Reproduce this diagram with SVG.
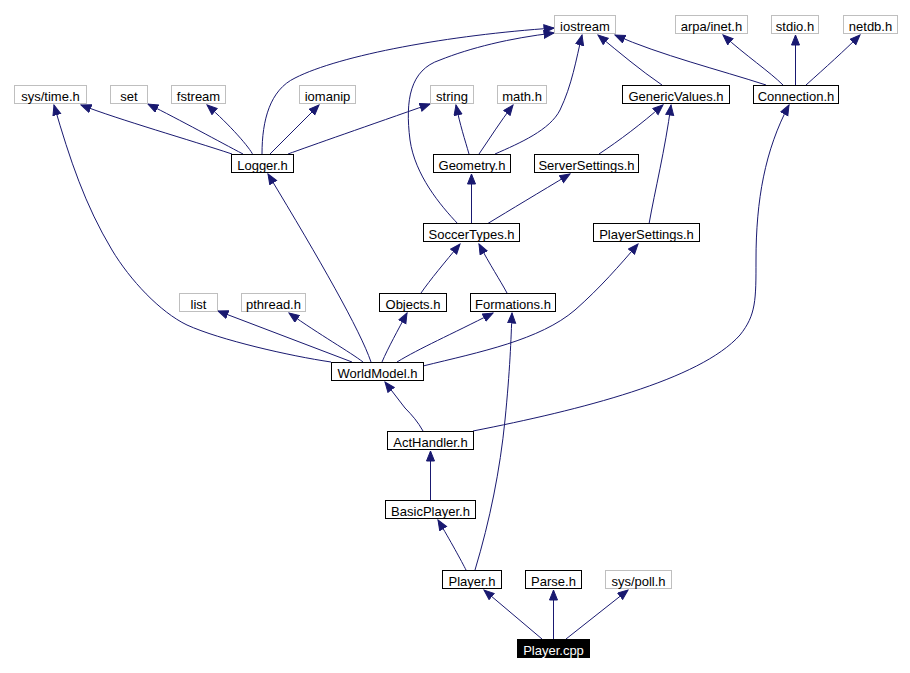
<svg xmlns="http://www.w3.org/2000/svg" width="910" height="673" viewBox="0 0 910 673">
<style>
.n rect{fill:#fff;stroke:#000;stroke-width:1}
.g rect{fill:#fff;stroke:#bfbfbf;stroke-width:1}
.r rect{fill:#000;stroke:#000;stroke-width:1}
text{font-family:"Liberation Sans",Arial,sans-serif;font-size:13px;text-anchor:middle;fill:#000}
.r text{fill:#fff}
#edges path{fill:none;stroke:#191970;stroke-width:1;marker-end:url(#ah)}
</style>
<defs>
<marker id="ah" markerUnits="userSpaceOnUse" markerWidth="12" markerHeight="10" refX="10.5" refY="4.5" orient="auto" viewBox="0 0 12 10">
<path d="M0.5,0.5 L10.5,4.5 L0.5,8.5 z" fill="#191970" stroke="#191970" stroke-width="1"/>
</marker>
</defs>
<rect width="910" height="673" fill="#fff"/>
<g id="edges">
<path d="M542,639 L484,590"/>
<path d="M553.5,639 L553.5,590"/>
<path d="M566,639 L628,590"/>
<path d="M466,570 C462,562 450,540 438,520"/>
<path d="M475,570 C490,520 500,470 505,420 C510,370 511,340 512,313"/>
<path d="M430.5,500 L430.5,451"/>
<path d="M423,431 C418,422 412,415 405,408 L385,382"/>
<path d="M473,431 C580,410 700,380 740,335 C756,315 756,300 756,260 C756,200 765,150 789,105"/>
<path d="M331,362 C290,356 220,340 187,325 C160,312 130,280 112,250 C85,205 70,160 54,105"/>
<path d="M352,362 L218,311"/>
<path d="M363,362 C350,352 320,335 289,313"/>
<path d="M371,362 C360,330 320,260 268,174"/>
<path d="M382,362 C388,348 398,330 407,313"/>
<path d="M397,362 C420,348 450,335 493,313"/>
<path d="M423,366 C480,352 540,340 575,310 C600,288 620,265 638,244"/>
<path d="M421,293 C430,280 445,262 460,244"/>
<path d="M507,293 C500,280 490,265 479,244"/>
<path d="M471.5,223 L471.5,174"/>
<path d="M487,224 C510,210 540,192 570,174"/>
<path d="M458,224 C440,205 415,175 410,140 C405,100 410,70 440,60 C470,48 510,38 554,33"/>
<path d="M649,224 C655,190 665,150 671,105"/>
<path d="M599,154 C620,140 640,125 663,105"/>
<path d="M469,154 C465,140 460,125 456,105"/>
<path d="M479,154 C490,138 500,122 513,105"/>
<path d="M495,154 C520,143 550,130 560,110 C572,85 576,60 582,35"/>
<path d="M232,154 C190,140 120,120 81,105"/>
<path d="M243,154 C220,142 180,120 148,104"/>
<path d="M253,155 C250,148 230,125 207,105"/>
<path d="M270,154 L319,105"/>
<path d="M288,154 C310,146 370,125 430,104"/>
<path d="M262,154 C262,120 270,90 295,78 C340,55 450,35 554,28"/>
<path d="M662,85 C640,70 620,53 598,35"/>
<path d="M766,85 C720,70 660,55 615,35"/>
<path d="M783,85 C770,72 745,55 723,35"/>
<path d="M795.5,85 L795.5,35"/>
<path d="M806,85 C825,68 845,50 860,35"/>
</g>
<g id="iostream" class="g"><rect x="554.5" y="15.5" width="61" height="18"/><text x="585" y="31">iostream</text></g>
<g id="arpa_inet" class="g"><rect x="675.5" y="15.5" width="72" height="18"/><text x="711.5" y="31">arpa/inet.h</text></g>
<g id="stdio" class="g"><rect x="771.5" y="15.5" width="47" height="18"/><text x="795" y="31">stdio.h</text></g>
<g id="netdb" class="g"><rect x="843.5" y="15.5" width="54" height="18"/><text x="870.5" y="31">netdb.h</text></g>
<g id="sys_time" class="g"><rect x="14.5" y="85.5" width="72" height="18"/><text x="50.5" y="101">sys/time.h</text></g>
<g id="set" class="g"><rect x="110.5" y="85.5" width="37" height="18"/><text x="129" y="101">set</text></g>
<g id="fstream" class="g"><rect x="171.5" y="85.5" width="54" height="18"/><text x="198.5" y="101">fstream</text></g>
<g id="iomanip" class="g"><rect x="299.5" y="85.5" width="56" height="18"/><text x="327.5" y="101">iomanip</text></g>
<g id="string" class="g"><rect x="430.5" y="85.5" width="43" height="18"/><text x="452" y="101">string</text></g>
<g id="math" class="g"><rect x="497.5" y="85.5" width="49" height="18"/><text x="522" y="101">math.h</text></g>
<g id="GenericValues" class="n"><rect x="622.5" y="85.5" width="107" height="18"/><text x="676" y="101">GenericValues.h</text></g>
<g id="Connection" class="n"><rect x="753.5" y="85.5" width="85" height="18"/><text x="796" y="101">Connection.h</text></g>
<g id="Logger" class="n"><rect x="231.5" y="154.5" width="62" height="18"/><text x="262.5" y="170">Logger.h</text></g>
<g id="Geometry" class="n"><rect x="433.5" y="154.5" width="77" height="18"/><text x="472" y="170">Geometry.h</text></g>
<g id="ServerSettings" class="n"><rect x="534.5" y="154.5" width="104" height="18"/><text x="586.5" y="170">ServerSettings.h</text></g>
<g id="SoccerTypes" class="n"><rect x="423.5" y="223.5" width="96" height="18"/><text x="471.5" y="239">SoccerTypes.h</text></g>
<g id="PlayerSettings" class="n"><rect x="593.5" y="223.5" width="106" height="18"/><text x="646.5" y="239">PlayerSettings.h</text></g>
<g id="list" class="g"><rect x="179.5" y="293.5" width="38" height="18"/><text x="198.5" y="309">list</text></g>
<g id="pthread" class="g"><rect x="241.5" y="293.5" width="64" height="18"/><text x="273.5" y="309">pthread.h</text></g>
<g id="Objects" class="n"><rect x="379.5" y="293.5" width="67" height="18"/><text x="413" y="309">Objects.h</text></g>
<g id="Formations" class="n"><rect x="470.5" y="293.5" width="85" height="18"/><text x="513" y="309">Formations.h</text></g>
<g id="WorldModel" class="n"><rect x="331.5" y="362.5" width="92" height="18"/><text x="377.5" y="378">WorldModel.h</text></g>
<g id="ActHandler" class="n"><rect x="387.5" y="431.5" width="86" height="18"/><text x="430.5" y="447">ActHandler.h</text></g>
<g id="BasicPlayer" class="n"><rect x="385.5" y="500.5" width="90" height="18"/><text x="430.5" y="516">BasicPlayer.h</text></g>
<g id="Player_h" class="n"><rect x="442.5" y="570.5" width="59" height="18"/><text x="472" y="586">Player.h</text></g>
<g id="Parse" class="n"><rect x="525.5" y="570.5" width="56" height="18"/><text x="553.5" y="586">Parse.h</text></g>
<g id="sys_poll" class="g"><rect x="605.5" y="570.5" width="66" height="18"/><text x="638.5" y="586">sys/poll.h</text></g>
<g id="Player_cpp" class="r"><rect x="517.5" y="639.5" width="72" height="18"/><text x="553.5" y="655">Player.cpp</text></g>
</svg>
